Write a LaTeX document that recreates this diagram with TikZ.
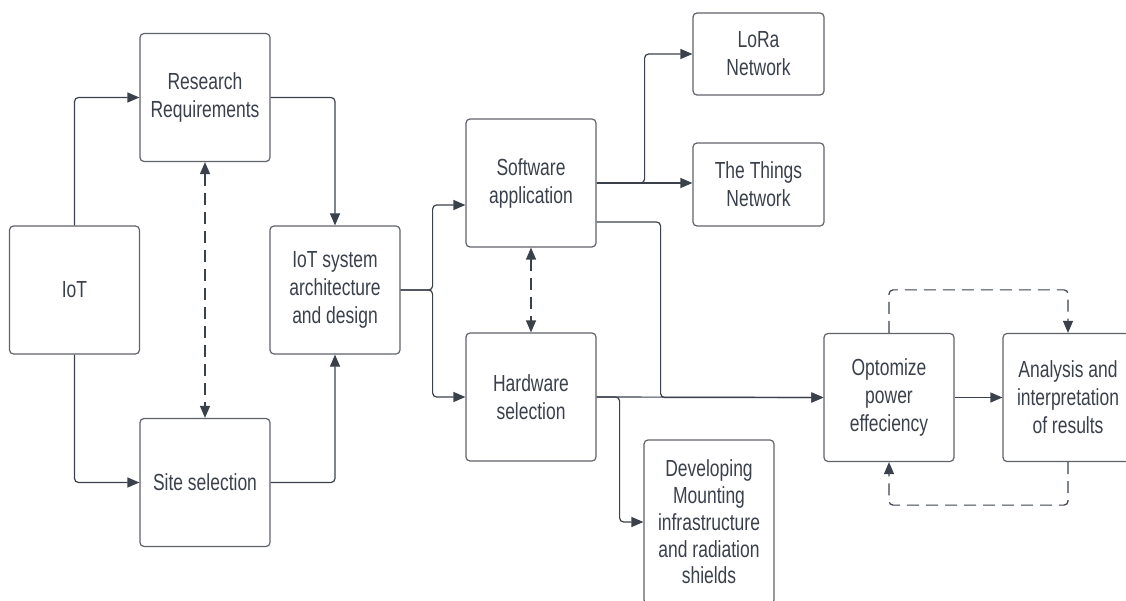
\documentclass[tikz,border=0pt]{standalone}
\usepackage{fontspec}
\setmainfont[FakeStretch=0.75]{Liberation Sans}
\usetikzlibrary{arrows.meta,calc}
\definecolor{boxline}{HTML}{5F636B}
\definecolor{ink}{HTML}{3A414B}
\tikzset{
  blk/.style={draw=boxline, line width=1.2pt, rounded corners=4pt, align=center,
    text=ink, inner sep=2pt, font=\fontsize{23.3}{28}\selectfont,
    minimum width=130pt, minimum height=128pt},
  link/.style={draw=ink, line width=1.2pt, rounded corners=4pt,
    -{Triangle[length=12pt,width=10pt]}},
  dlink/.style={link, dash pattern=on 12pt off 7pt},
  dboth/.style={dlink, {Triangle[length=12pt,width=10pt]}-{Triangle[length=12pt,width=10pt]}}
}
\begin{document}
\begin{tikzpicture}[x=1pt,y=-1pt]
\useasboundingbox (0,0) rectangle (1126,601);

% boxes
\node[blk] (iot)  at (74.5,290) {IoT};
\node[blk] (res)  at (205,97.5) {Research\\Requirements};
\node[blk] (site) at (205,482.5) {Site selection};
\node[blk] (arch) at (335,290) {IoT system\\architecture\\and design};
\node[blk] (soft) at (531,183) {Software\\application};
\node[blk] (hard) at (531,397) {Hardware\\selection};
\node[blk, minimum width=131pt, minimum height=82pt] (lora) at (758.5,54) {LoRa\\Network};
\node[blk, minimum width=131pt, minimum height=83pt] (ttn) at (758.5,184.5) {The Things\\Network};
\node[blk, minimum height=164pt, font=\fontsize{23.3}{26.7}\selectfont] (dev) at (709,522)
  {Developing\\Mounting\\infrastructure\\and radiation\\shields};
\node[blk] (opt) at (889,397.5) {Optomize\\power\\effeciency};
\node[blk] (ana) at (1068,397.5) {Analysis and\\interpretation\\of results};

% first stage
\draw[link] (iot.north) |- (res.west);
\draw[link] (iot.south) |- (site.west);
\draw[link] (res.east) -| (arch.north);
\draw[link] (site.east) -| (arch.south);
\draw[dboth] (res.south) -- (site.north);

% design split
\draw[link] (arch.east) -- ++(32,0) |- ($(soft.west)+(0,22)$);
\draw[link] (arch.east) -- ++(32,0) |- (hard.west);
\draw[dboth] (soft.south) -- (hard.north);

% software outputs
\draw[link] (soft.east) -- ++(48,0) |- (lora.west);
\draw[link] (soft.east) -- (soft.east -| ttn.west);
\draw[link] ($(soft.east)+(0,39)$) -- ++(64,0) |- (opt.west);

% hardware outputs
\draw[link] (hard.east) -- (opt.west);
\draw[link] (hard.east) -- ++(23,0) |- (dev.west);

% optimisation loop
\draw[link] (opt.east) -- (ana.west);
\draw[dlink] (opt.north) -- ++(0,-43) -| (ana.north);
\draw[dlink] (ana.south) -- ++(0,43) -| (opt.south);
\end{tikzpicture}
\end{document}
